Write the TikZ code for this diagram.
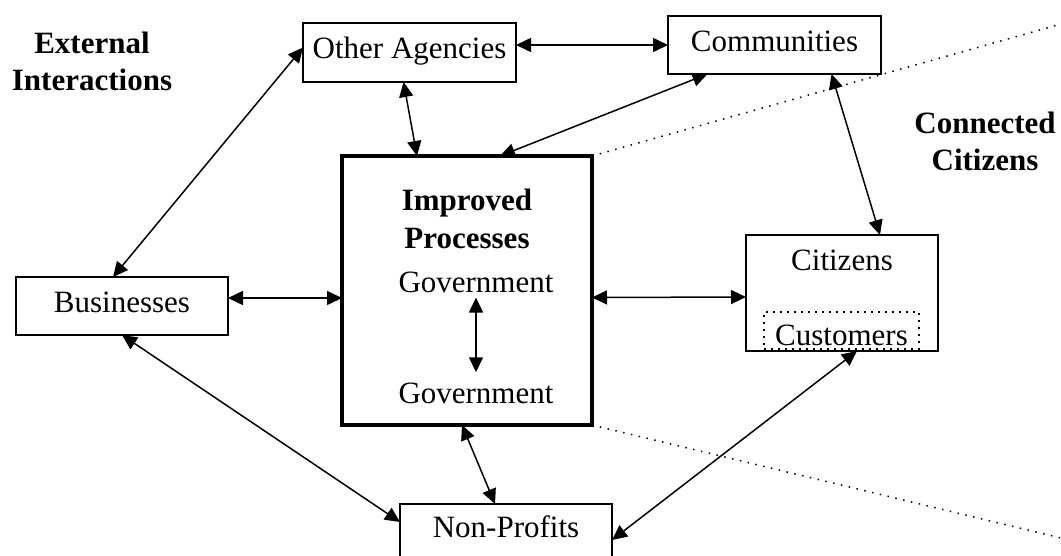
\documentclass[tikz,border=0pt]{standalone}
\usepackage{fontspec}
\setmainfont{Liberation Serif}
\usetikzlibrary{arrows.meta}

\begin{document}
\begin{tikzpicture}[x=1pt,y=-1pt,
		font=\fontsize{31}{37}\selectfont,
		box/.style={draw,line width=1.6pt,inner sep=0pt,outer sep=0pt,text height=21pt,text depth=9pt},
		lbl/.style={inner sep=0pt,anchor=base},
		head/.style={inner sep=0pt,anchor=base,font=\fontsize{31}{37}\selectfont\bfseries},
		twoway/.style={{Triangle[length=15pt,width=14pt]}-{Triangle[length=15pt,width=14pt]},line width=1.5pt},
		rim/.style={line width=1.5pt,dash pattern=on 1.5pt off 6.5pt}]
				\useasboundingbox (0,0) rectangle (1061,555);
				
				\node[head] (ext1) at (92,53) {External};
				\node[head] (ext2) at (92,90) {Interactions};
				\node[head] (con1) at (985,133) {Connected};
				\node[head] (con2) at (985,170) {Citizens};
				
				\node[box,minimum width=213pt,minimum height=59pt] (agencies) at (409.5,52.5) {Other Agencies};
				\node[box,minimum width=213pt,minimum height=58pt] (communities) at (774.5,45) {Communities};
				\node[box,minimum width=212pt,minimum height=58pt] (businesses) at (122,306) {Businesses};
				\node[box,minimum width=212pt,minimum height=54pt] (nonprofits) at (506,531) {Non-Profits};
				
				\node[box,line width=4pt,minimum width=250pt,minimum height=269pt] (improved) at (467,290.5) {};
				\node[head] (imp1) at (467,210) {Improved};
				\node[head] (imp2) at (467,248) {Processes};
				\node[lbl] (gov1) at (476,292) {Government};
				\node[lbl] (gov2) at (476,403) {Government};
				
				\node[box,minimum width=192pt,minimum height=116pt] (citizens) at (842,293) {};
				\node[lbl] (citlbl) at (842,270) {Citizens};
				\node[box,line width=2pt,dash pattern=on 2pt off 5pt,minimum width=155pt,minimum height=37pt] (customers) at (841.5,330.5) {};
				\node[lbl] (custlbl) at (841.5,345) {Customers};
				
				\coordinate (farup) at (1061,24);
				\coordinate (fardown) at (1061,538);
				\draw[rim] (improved.north east) -- (farup);
				\draw[rim] (improved.south east) -- (fardown);
				
				\draw[twoway] (agencies.east |- communities.west) -- (communities.west);
				\draw[twoway] ([yshift=5pt]agencies.west) -- ([xshift=-9pt]businesses.north);
				\draw[twoway] ([xshift=-6pt]agencies.south) -- ([xshift=-50pt]improved.north);
				\draw[twoway] ([xshift=33pt]improved.north) -- ([xshift=-67pt]communities.south);
				\draw[twoway] ([xshift=57pt]communities.south) -- ([xshift=38pt]citizens.north);
				\draw[twoway] ([yshift=8pt]businesses.east) -- ([yshift=-7.5pt]improved.west);
				\draw[twoway] ([yshift=-7pt]improved.east) -- ([yshift=-4pt]citizens.west);
				\draw[twoway] (businesses.south) -- ([yshift=9pt]nonprofits.west);
				\draw[twoway] ([xshift=-5pt]improved.south) -- ([xshift=-11pt]nonprofits.north);
				\draw[twoway] ([xshift=15pt]citizens.south) -- ([yshift=-9pt]nonprofits.east);
				\draw[twoway] ([yshift=-5pt]gov1.south) -- ([yshift=10pt]gov2.north);
			\end{tikzpicture}
\end{document}
